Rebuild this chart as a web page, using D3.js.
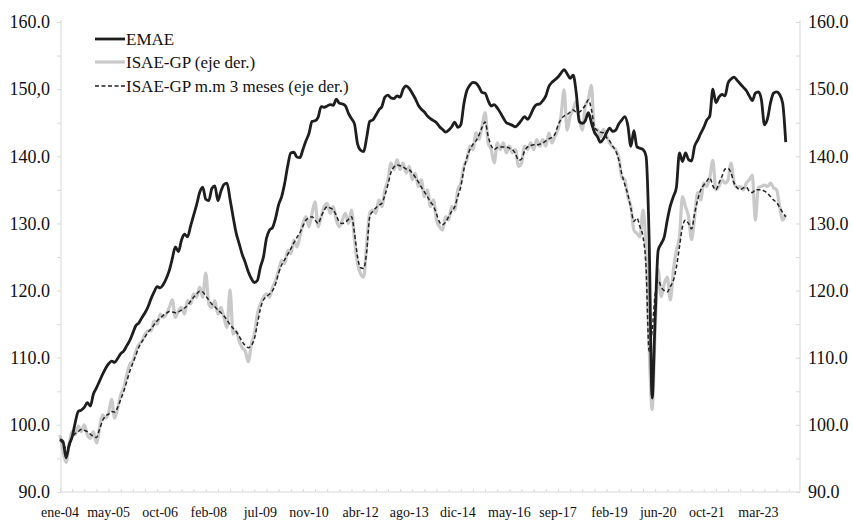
<!DOCTYPE html>
<html><head><meta charset="utf-8">
<script src="https://cdn.jsdelivr.net/npm/d3@7"></script>
<style>body{margin:0;background:#fff}svg{display:block}</style>
</head><body><svg id="c" width="853" height="524"></svg>
<script>
// month index 0 = ene-04 (monthly data to dic-23)
const emae = [
97.8,97.5,95.1,97.0,98.2,100.3,102.0,102.2,102.6,103.3,102.8,104.6,
105.5,106.5,107.5,108.4,109.1,109.5,109.3,109.9,110.6,111.0,111.8,112.6,
113.7,114.8,115.2,116.0,116.7,117.6,118.8,119.8,120.6,120.4,120.9,121.8,
123.0,124.8,126.5,125.8,127.5,128.4,128.0,129.6,131.2,132.8,134.6,135.4,
133.6,133.4,135.2,135.6,133.4,134.8,135.8,136.0,133.6,131.0,128.6,127.0,
125.4,124.2,122.8,121.8,121.2,121.5,123.5,125.0,127.8,129.0,129.4,130.8,
132.8,134.0,136.0,138.6,140.5,140.6,139.9,139.8,141.0,142.3,143.4,145.2,
145.3,145.8,147.4,147.3,147.5,147.7,147.6,148.5,147.9,147.8,147.5,146.4,
145.6,144.8,141.8,140.9,140.7,142.8,145.2,145.4,146.1,146.9,147.4,148.8,
149.1,148.7,148.6,149.0,148.8,150.0,150.5,150.1,149.4,148.6,147.6,147.0,
146.6,146.0,145.6,145.3,145.0,144.4,144.0,143.6,143.9,144.4,145.1,144.3,
144.7,147.8,149.8,150.6,151.0,150.9,150.3,149.5,149.4,148.3,147.5,147.7,
147.2,146.5,145.7,145.0,144.8,144.6,144.4,144.8,145.4,145.9,145.5,146.2,
147.2,147.7,147.8,148.3,149.0,150.4,151.0,151.4,151.8,152.4,152.9,152.3,
151.6,152.1,149.5,145.2,144.9,145.3,146.5,145.0,143.6,142.9,142.1,142.6,
143.5,144.2,143.7,143.9,144.8,145.4,145.9,144.6,141.5,143.8,141.4,141.2,
141.0,140.0,128.0,104.0,116.0,126.0,127.0,128.0,130.5,132.6,134.0,135.4,
140.5,139.2,140.5,139.5,139.3,141.5,142.4,143.4,144.3,145.4,146.0,150.0,
148.0,148.8,149.2,149.0,150.9,151.5,151.8,151.3,150.8,150.3,149.8,149.0,
148.3,149.4,149.6,148.4,144.7,145.6,148.0,149.4,149.6,149.2,147.9,142.1
];
const isae = [
98.5,96.0,94.4,97.0,99.0,98.5,99.8,99.0,100.0,98.5,98.0,99.0,
97.3,99.5,101.5,101.0,101.8,103.8,101.0,102.5,104.5,105.5,107.5,109.0,
109.5,111.0,112.0,112.5,113.5,114.0,114.0,115.5,115.0,116.5,116.0,116.5,
117.5,118.6,116.0,117.0,117.5,116.5,118.5,118.0,119.5,119.0,120.5,119.0,
122.6,118.0,117.5,118.5,116.5,117.5,116.0,114.5,120.1,113.5,114.0,112.5,
111.5,111.0,109.4,112.0,113.5,116.5,118.0,119.0,119.5,119.0,120.5,121.5,
123.0,124.5,124.0,126.0,125.5,127.5,126.5,128.0,130.0,131.0,129.5,131.5,
133.2,129.5,131.0,132.5,133.0,131.5,132.5,130.5,129.5,130.5,131.5,130.0,
132.0,127.5,124.0,122.5,122.0,127.0,131.5,132.0,131.5,133.5,132.5,135.0,
136.5,139.0,138.0,139.5,138.0,139.0,137.5,138.5,136.5,137.5,135.5,136.5,
134.0,135.0,132.5,133.5,130.5,129.5,129.0,131.0,130.5,132.5,132.0,135.0,
136.0,138.5,139.5,141.5,141.0,143.5,142.5,144.5,146.5,142.0,141.0,139.0,
142.0,141.0,142.0,140.5,141.5,140.5,141.0,138.5,139.0,141.5,141.0,142.0,
141.0,142.5,141.5,142.5,141.5,143.5,142.0,143.0,144.0,146.0,149.9,143.9,
146.0,147.0,148.1,145.5,143.9,147.5,148.5,150.6,143.9,144.0,142.9,144.0,
143.0,142.0,141.4,141.0,139.9,136.9,136.5,134.0,132.5,129.0,128.5,128.0,
132.0,126.0,112.0,102.3,114.0,123.1,119.1,121.0,122.0,118.6,123.0,126.0,
128.0,134.0,132.5,131.0,127.6,131.0,134.6,133.5,136.0,135.5,136.9,139.4,
135.0,135.5,136.5,136.0,136.5,139.0,136.0,135.4,135.5,135.0,136.0,136.5,
137.2,130.5,135.4,135.5,135.7,135.5,136.0,135.3,135.0,132.5,130.5,131.3
];
const isaeMM3 = [
97.8,97.2,96.5,96.8,98.1,98.7,99.0,99.3,99.2,99.0,98.6,98.3,
98.1,99.3,100.6,101.3,101.6,102.0,101.9,102.6,103.8,105.0,106.5,108.0,
109.2,110.4,111.6,112.4,113.1,113.8,114.3,114.9,115.5,115.9,116.3,116.6,
116.9,116.8,116.7,116.8,117.1,117.4,117.8,118.4,119.0,119.5,119.9,119.8,
119.2,118.6,118.0,117.6,117.1,116.7,116.2,115.6,114.9,114.4,113.9,113.2,
112.4,111.8,111.5,111.8,112.8,115.0,117.3,118.6,119.1,119.5,120.0,121.0,
122.6,123.8,124.6,125.4,126.2,127.1,127.9,128.6,129.6,130.5,130.8,131.0,
130.5,130.0,131.0,132.0,132.5,132.3,132.0,131.2,130.2,130.0,130.2,130.6,
131.0,128.5,125.0,123.4,123.3,125.8,131.0,131.8,132.3,132.7,133.0,134.2,
135.8,137.6,138.4,138.7,138.6,138.4,138.1,138.0,137.5,136.9,136.2,135.4,
134.7,134.0,133.2,132.6,131.4,130.2,129.8,130.2,131.0,131.8,132.5,134.0,
135.5,138.0,139.8,141.0,141.8,142.3,143.2,144.3,145.1,143.0,141.6,141.0,
141.3,141.4,141.4,141.4,141.2,141.0,140.4,139.4,139.6,140.8,141.4,141.6,
141.7,141.7,141.8,142.0,142.3,142.6,142.8,143.3,144.6,145.5,146.0,146.2,
146.6,146.9,146.6,146.6,147.0,147.6,148.4,147.0,144.4,143.8,143.6,143.5,
142.8,142.3,141.5,140.8,139.5,137.4,135.8,134.3,132.3,130.3,130.8,129.5,
128.0,123.5,111.0,114.0,119.5,121.6,120.5,120.0,119.8,120.6,121.5,123.5,
126.5,129.5,130.5,130.0,129.2,131.5,133.5,135.0,135.7,136.3,136.8,135.6,
135.0,136.0,137.0,138.1,138.2,137.5,136.0,135.3,135.0,135.3,135.4,134.8,
134.6,135.0,135.0,135.0,134.8,134.5,134.0,133.5,133.1,132.4,131.6,131.0
];
const xTickLabels = ["ene-04","may-05","oct-06","feb-08","jul-09","nov-10","abr-12","ago-13","dic-14","may-16","sep-17","feb-19","jun-20","oct-21","mar-23"];
const xTickMonths = [0,16,33,49,66,82,99,115,131,148,164,181,197,213,230];
const yLeftLabels = ["90.0","100.0","110.0","120.0","130.0","140.0","150,0","160.0"];
const yRightLabels = ["90.0","100.0","110.0","120.0","130.0","140.0","150.0","160.0"];
const yTickValues = [90,100,110,120,130,140,150,160];
const seriesNames = ["EMAE","ISAE-GP (eje der.)","ISAE-GP m.m 3 meses (eje der.)"];

const FONT = "Liberation Serif, Times New Roman, Times, Tinos, Nimbus Roman, Nimbus Roman No9 L, FreeSerif, Noto Serif, DejaVu Serif, serif";
const svg = d3.select("#c");
const L = 61, R = 800, T = 22, B = 492;
const x = d3.scaleLinear().domain([0, 243.7]).range([60, R]);
const yL = d3.scaleLinear().domain([90, 160]).range([B, T]);
const yR = d3.scaleLinear().domain([90, 160]).range([B, T]);
const axisCol = "#d9d9d9";

const gL = svg.append("g").attr("transform", `translate(${L},0)`)
  .call(d3.axisLeft(yL).tickValues(d3.range(90, 160.1, 5)).tickSize(4).tickFormat(""));
const gR = svg.append("g").attr("transform", `translate(${R},0)`)
  .call(d3.axisLeft(yR).tickValues(d3.range(90, 160.1, 5)).tickSize(4).tickFormat(""));
const gB = svg.append("g").attr("transform", `translate(0,${B})`)
  .call(d3.axisTop(x).tickValues(d3.range(0, 243.8, 4)).tickSize(3).tickFormat(""));
[gL, gR, gB].forEach(g => { g.select(".domain").remove(); g.selectAll("line").attr("stroke", axisCol); });
svg.append("line").attr("x1", L).attr("x2", L).attr("y1", T - 2).attr("y2", B).attr("stroke", axisCol);
svg.append("line").attr("x1", R).attr("x2", R).attr("y1", T - 2).attr("y2", B).attr("stroke", axisCol);
svg.append("line").attr("x1", L).attr("x2", R).attr("y1", B).attr("y2", B).attr("stroke", axisCol);

svg.append("g").selectAll("text").data(yTickValues).join("text")
  .style("font-family", FONT).attr("fill", "#111")
  .attr("x", 50).attr("y", d => yL(d)).attr("dy", "0.35em").attr("text-anchor", "end")
  .attr("font-size", 18).text((d, i) => yLeftLabels[i]);
svg.append("g").selectAll("text").data(yTickValues).join("text")
  .style("font-family", FONT).attr("fill", "#111")
  .attr("x", 808).attr("y", d => yR(d)).attr("dy", "0.35em").attr("text-anchor", "start")
  .attr("font-size", 18).text((d, i) => yRightLabels[i]);
svg.append("g").selectAll("text").data(xTickMonths).join("text")
  .style("font-family", FONT).attr("fill", "#111")
  .attr("x", d => x(d)).attr("y", 517).attr("text-anchor", "middle")
  .attr("font-size", 14).text((d, i) => xTickLabels[i]);

const lineL = d3.line().x((d, i) => x(i)).y(d => yL(d)).curve(d3.curveMonotoneX);
const lineR = d3.line().x((d, i) => x(i)).y(d => yR(d)).curve(d3.curveMonotoneX);
svg.append("path").datum(isae).attr("d", lineR).attr("fill", "none").attr("stroke", "#c9c9c9").attr("stroke-width", 3.2).attr("stroke-linejoin", "round");
svg.append("path").datum(isaeMM3).attr("d", lineR).attr("fill", "none").attr("stroke", "#222").attr("stroke-width", 1.5).attr("stroke-dasharray", "4,2.5");
svg.append("path").datum(emae).attr("d", lineL).attr("fill", "none").attr("stroke", "#1e1e1e").attr("stroke-width", 2.8).attr("stroke-linejoin", "round");

const legY = [39, 62, 86];
const leg = svg.append("g");
const styles = [{c:"#1e1e1e", w:2.8, d:null}, {c:"#c9c9c9", w:3.2, d:null}, {c:"#222", w:1.5, d:"4,2.5"}];
seriesNames.forEach((n, i) => {
  leg.append("line").attr("x1", 95).attr("x2", 125).attr("y1", legY[i]).attr("y2", legY[i])
    .attr("stroke", styles[i].c).attr("stroke-width", styles[i].w).attr("stroke-dasharray", styles[i].d);
  leg.append("text").style("font-family", FONT).attr("fill", "#111")
    .attr("x", 126).attr("y", legY[i]).attr("dy", "0.35em").attr("font-size", 17).text(n);
});
</script></body></html>
